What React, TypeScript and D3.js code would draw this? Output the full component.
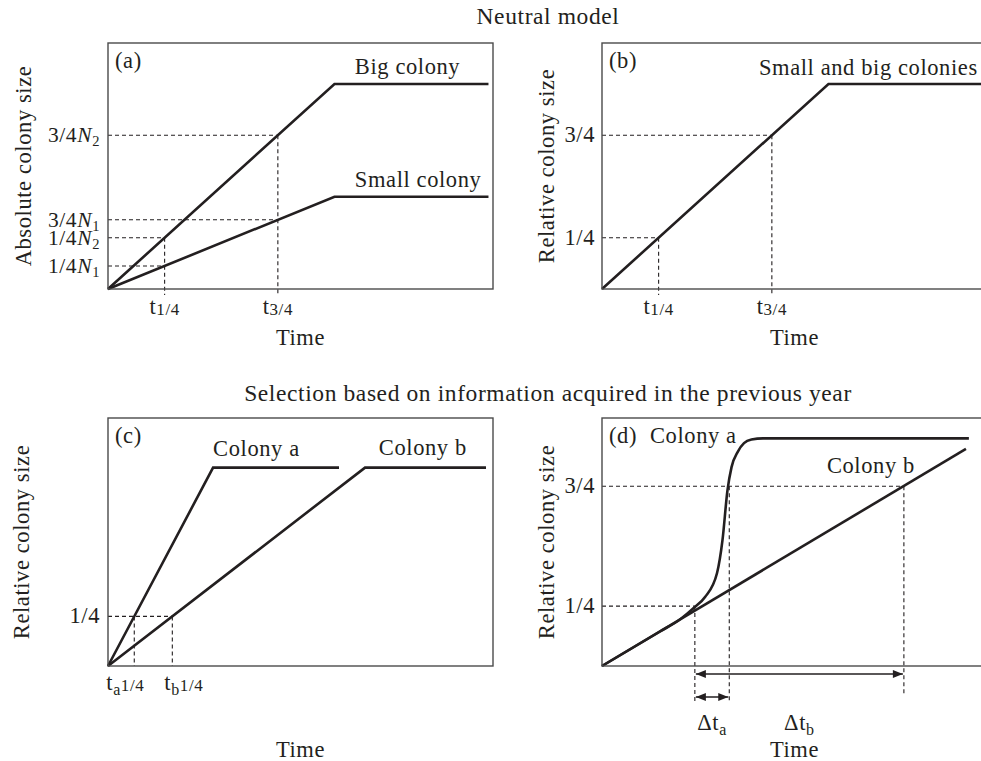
import * as d3 from "d3";
import React from "react";

type Pt = [number, number];

const FONT = "'Liberation Serif', 'Times New Roman', serif";
const FS = 22.5;
const LS = 0.6;
const INK = "#231f20";

// shared axes: time (plateau reached at t = 1) and colony size
const timeDomain: Pt = [0, 1.7];
const sizeDomain: Pt = [0, 1.2];
const sizeDomainD: Pt = [0, 1.035];

// (a) neutral model, absolute size (N2 = 1)
const bigColony: Pt[] = [[0, 0], [1, 1], [1.68, 1]];
const smallColony: Pt[] = [[0, 0], [1, 0.45], [1.68, 0.45]];
const ticksA = [
  { v: 0.75, t: 0.75, frac: "3/4", sub: "2" },
  { v: 0.3375, t: 0.75, frac: "3/4", sub: "1" },
  { v: 0.25, t: 0.25, frac: "1/4", sub: "2" },
  { v: 0.1125, t: 0.25, frac: "1/4", sub: "1" },
];
const quarterTimes = [
  { t: 0.25, v: 0.25, frac: "1/4" },
  { t: 0.75, v: 0.75, frac: "3/4" },
];

// (b) neutral model, relative size
const bothColonies: Pt[] = [[0, 0], [1, 1], [1.7, 1]];
const ticksB = [
  { v: 0.75, t: 0.75, frac: "3/4" },
  { v: 0.25, t: 0.25, frac: "1/4" },
];

// (c) selection, linear growth
const colonyAc: Pt[] = [[0, 0], [0.464, 0.96], [1.02, 0.96]];
const colonyBc: Pt[] = [[0, 0], [1.135, 0.96], [1.669, 0.96]];
const quarterC = 0.24;
const tQuarterAc = 0.116;
const tQuarterBc = 0.284;

// (d) selection, sigmoid growth of colony a
const colonyAd: Pt[] = [
  [0, 0], [0.256, 0.144], [0.344, 0.194], [0.41, 0.246], [0.455, 0.288],
  [0.508, 0.388], [0.532, 0.525], [0.554, 0.733], [0.572, 0.83],
  [0.6, 0.895], [0.627, 0.93], [0.66, 0.945], [0.711, 0.95], [1.62, 0.95],
];
const colonyBd: Pt[] = [[0, 0], [1.607, 0.906]];
const tStartD = 0.41;
const tEndA = 0.562;
const tEndB = 1.333;

const boxes = {
  a: { x: 108, y: 43, w: 385, h: 246 },
  b: { x: 602, y: 43, w: 385, h: 246 },
  c: { x: 108, y: 418, w: 385, h: 248 },
  d: { x: 602, y: 418, w: 385, h: 248 },
};

const line = (x: d3.ScaleLinear<number, number>, y: d3.ScaleLinear<number, number>, curve: d3.CurveFactory = d3.curveLinear) =>
  d3.line<Pt>().x((d) => x(d[0])).y((d) => y(d[1])).curve(curve);

function Dash({ x1, y1, x2, y2 }: { x1: number; y1: number; x2: number; y2: number }) {
  return <line x1={x1} y1={y1} x2={x2} y2={y2} stroke={INK} strokeWidth={1.1} strokeDasharray="4 3" />;
}

function Panel({ box, yDomain = sizeDomain, letter, yTitle, yTitleX, children }: any) {
  const x = d3.scaleLinear().domain(timeDomain).range([box.x, box.x + box.w]);
  const y = d3.scaleLinear().domain(yDomain).range([box.y + box.h, box.y]);
  return (
    <g>
      {children(x, y)}
      <rect x={box.x} y={box.y} width={box.w} height={box.h} fill="none" stroke="#4a4a4a" strokeWidth={1.4} />
      <text x={box.x + 7} y={box.y + 25}>{`(${letter})`}</text>
      <text textAnchor="middle" transform={`translate(${yTitleX},${box.y + box.h / 2}) rotate(-90)`}>{yTitle}</text>
    </g>
  );
}

function Curve({ d }: { d: string | null }) {
  return <path d={d ?? ""} fill="none" stroke={INK} strokeWidth={2.6} strokeLinejoin="miter" />;
}

export default function App() {
  return (
    <svg width={981} height={761} style={{ position: "absolute", left: 0, top: 0, background: "#fff" }}
      fontFamily={FONT} fontSize={FS} letterSpacing={LS} fill={INK}>
      <defs>
        <marker id="head" viewBox="0 0 10 8" refX={10} refY={4} markerWidth={11} markerHeight={8}
          markerUnits="userSpaceOnUse" orient="auto-start-reverse">
          <path d="M0,0 L10,4 L0,8 z" fill={INK} />
        </marker>
      </defs>

      <text x={548} y={24} textAnchor="middle" fontSize={23.5}>Neutral model</text>
      <text x={548} y={401} textAnchor="middle" fontSize={23.5}>Selection based on information acquired in the previous year</text>

      {/* (a) */}
      <Panel box={boxes.a} letter="a" yTitle="Absolute colony size" yTitleX={31}>
        {(x: any, y: any) => (
          <g>
            {ticksA.map((d, i) => (
              <g key={i}>
                <Dash x1={x(0)} y1={y(d.v)} x2={x(d.t)} y2={y(d.v)} />
                <text x={x(0) - 8} y={y(d.v) + 7} textAnchor="end" fontSize={21.5}>
                  {d.frac}<tspan fontStyle="italic">N</tspan>
                  <tspan fontSize={14.5} dy={4}>{d.sub}</tspan>
                </text>
              </g>
            ))}
            {quarterTimes.map((d, i) => (
              <g key={i}>
                <Dash x1={x(d.t)} y1={y(d.v)} x2={x(d.t)} y2={y(0) + 6} />
                <text x={x(d.t)} y={y(0) + 25} textAnchor="middle">
                  t<tspan fontSize={17} dy={1}>{d.frac}</tspan>
                </text>
              </g>
            ))}
            <Curve d={line(x, y)(bigColony)} />
            <Curve d={line(x, y)(smallColony)} />
            <text x={x(1.09)} y={y(1) - 10}>Big colony</text>
            <text x={x(1.09)} y={y(0.45) - 10}>Small colony</text>
            <text x={(x(0) + x(1.7)) / 2} y={y(0) + 56} textAnchor="middle">Time</text>
          </g>
        )}
      </Panel>

      {/* (b) */}
      <Panel box={boxes.b} letter="b" yTitle="Relative colony size" yTitleX={554}>
        {(x: any, y: any) => (
          <g>
            {ticksB.map((d, i) => (
              <g key={i}>
                <Dash x1={x(0)} y1={y(d.v)} x2={x(d.t)} y2={y(d.v)} />
                <text x={x(0) - 7} y={y(d.v) + 7} textAnchor="end">{d.frac}</text>
                <Dash x1={x(d.t)} y1={y(d.v)} x2={x(d.t)} y2={y(0) + 6} />
                <text x={x(d.t)} y={y(0) + 25} textAnchor="middle">
                  t<tspan fontSize={17} dy={1}>{d.frac}</tspan>
                </text>
              </g>
            ))}
            <Curve d={line(x, y)(bothColonies)} />
            <text x={x(0.693)} y={y(1) - 9}>Small and big colonies</text>
            <text x={(x(0) + x(1.7)) / 2} y={y(0) + 56} textAnchor="middle">Time</text>
          </g>
        )}
      </Panel>

      {/* (c) */}
      <Panel box={boxes.c} letter="c" yTitle="Relative colony size" yTitleX={29}>
        {(x: any, y: any) => (
          <g>
            <Dash x1={x(0)} y1={y(quarterC)} x2={x(tQuarterBc)} y2={y(quarterC)} />
            <Dash x1={x(tQuarterAc)} y1={y(quarterC)} x2={x(tQuarterAc)} y2={y(0)} />
            <Dash x1={x(tQuarterBc)} y1={y(quarterC)} x2={x(tQuarterBc)} y2={y(0)} />
            <text x={x(0) - 8} y={y(quarterC) + 7} textAnchor="end">1/4</text>
            <text x={x(tQuarterAc) - 28} y={y(0) + 24}>
              t<tspan fontSize={16} dy={5}>a</tspan><tspan fontSize={17} dy={-4}>1/4</tspan>
            </text>
            <text x={x(tQuarterBc) - 8} y={y(0) + 24}>
              t<tspan fontSize={16} dy={5}>b</tspan><tspan fontSize={17} dy={-4}>1/4</tspan>
            </text>
            <Curve d={line(x, y)(colonyAc)} />
            <Curve d={line(x, y)(colonyBc)} />
            <text x={x(0.464)} y={y(0.96) - 12}>Colony a</text>
            <text x={x(1.196)} y={y(0.96) - 13}>Colony b</text>
            <text x={(x(0) + x(1.7)) / 2} y={y(0) + 91} textAnchor="middle">Time</text>
          </g>
        )}
      </Panel>

      {/* (d) */}
      <Panel box={boxes.d} yDomain={sizeDomainD} letter="d" yTitle="Relative colony size" yTitleX={554}>
        {(x: any, y: any) => (
          <g>
            <Dash x1={x(0)} y1={y(0.25)} x2={x(tStartD)} y2={y(0.25)} />
            <Dash x1={x(0)} y1={y(0.75)} x2={x(tEndB)} y2={y(0.75)} />
            <text x={x(0) - 7} y={y(0.25) + 7} textAnchor="end">1/4</text>
            <text x={x(0) - 7} y={y(0.75) + 7} textAnchor="end">3/4</text>
            <Dash x1={x(tStartD)} y1={y(0.25)} x2={x(tStartD)} y2={y(0) + 37} />
            <Dash x1={x(tEndA)} y1={y(0.75)} x2={x(tEndA)} y2={y(0) + 37} />
            <Dash x1={x(tEndB)} y1={y(0.75)} x2={x(tEndB)} y2={y(0) + 29} />
            <line x1={x(tStartD) + 1} x2={x(tEndB) - 1} y1={y(0) + 8} y2={y(0) + 8} stroke={INK} strokeWidth={1.6}
              markerStart="url(#head)" markerEnd="url(#head)" />
            <line x1={x(tStartD) + 1} x2={x(tEndA) - 1} y1={y(0) + 31} y2={y(0) + 31} stroke={INK} strokeWidth={1.6}
              markerStart="url(#head)" markerEnd="url(#head)" />
            <text x={(x(tStartD) + x(tEndA)) / 2} y={y(0) + 64} textAnchor="middle">
              Δt<tspan fontSize={16} dy={5}>a</tspan>
            </text>
            <text x={(x(tStartD) + x(tEndB)) / 2} y={y(0) + 64} textAnchor="middle">
              Δt<tspan fontSize={16} dy={5}>b</tspan>
            </text>
            <Curve d={line(x, y)(colonyBd)} />
            <Curve d={line(x, y, d3.curveMonotoneX)(colonyAd)} />
            <text x={x(0.212)} y={y(0.95) + 5}>Colony a</text>
            <text x={x(0.993)} y={y(0.805)}>Colony b</text>
            <text x={(x(0) + x(1.7)) / 2} y={y(0) + 91} textAnchor="middle">Time</text>
          </g>
        )}
      </Panel>
    </svg>
  );
}
